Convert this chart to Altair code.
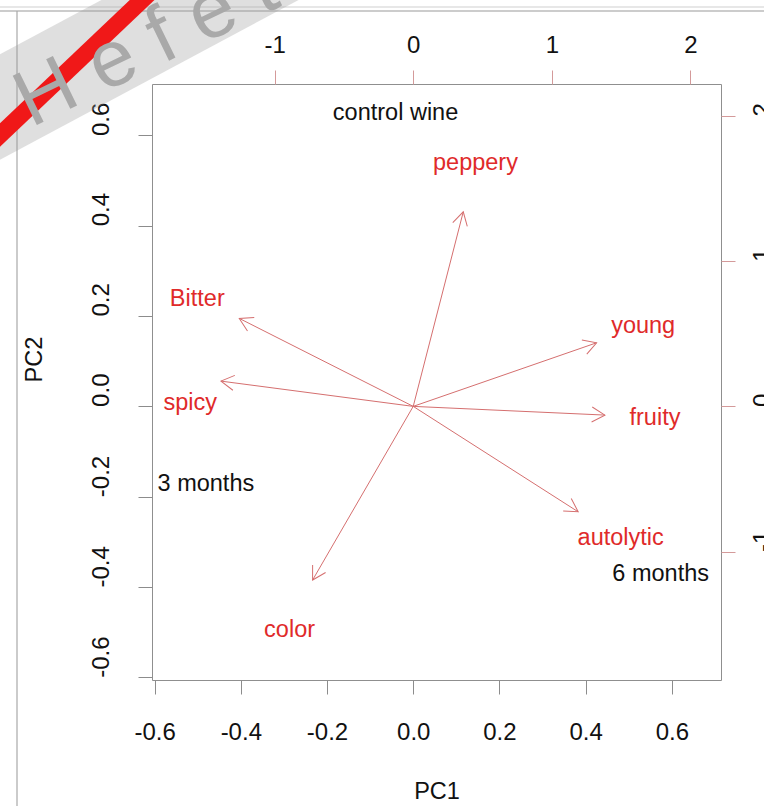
import altair as alt
import numpy as np
import pandas as pd

# ---------------- data ----------------
# observations (scores on PC1 / PC2, bottom & left axes)
obs_labels = ["control wine", "3 months", "6 months"]
obs_pc1 = [-0.041, -0.481, 0.574]
obs_pc2 = [0.650, -0.171, -0.371]

# variables (loadings, top & right axes)
var_names = ["peppery", "Bitter", "spicy", "young", "fruity", "autolytic", "color"]
arrow_x = [0.361, -1.255, -1.387, 1.323, 1.383, 1.190, -0.726]
arrow_y = [1.340, 0.606, 0.174, 0.438, -0.060, -0.726, -1.196]
label_x = [0.449, -1.558, -1.609, 1.659, 1.744, 1.497, -0.892]
label_y = [1.673, 0.737, 0.020, 0.555, -0.083, -0.909, -1.541]

pc_ticks = [-0.6, -0.4, -0.2, 0.0, 0.2, 0.4, 0.6]
load_ticks = [-1, 0, 1, 2]

# ---------------- layout / style ----------------
PC_DOMAIN = [-0.606, 0.714]
LOAD_RATIO = 3.11
LOAD_DOMAIN = [d * LOAD_RATIO for d in PC_DOMAIN]
W, H = 569, 596
FONT = "Liberation Sans"
RED = "#e02a2a"
ARROW = "#d56f6f"
AXGRAY = "#8c8c8c"
PINK = "#d49a9a"
MINUS = "replace(datum.label, '\u2212', '-')"

obs = pd.DataFrame({"label": obs_labels, "pc1": obs_pc1, "pc2": obs_pc2})

vdf = pd.DataFrame({"name": var_names, "ax": arrow_x, "ay": arrow_y,
                    "lx": label_x, "ly": label_y})
vdf["o"] = 0.0
px_x = W / (LOAD_DOMAIN[1] - LOAD_DOMAIN[0])
px_y = H / (LOAD_DOMAIN[1] - LOAD_DOMAIN[0])
vdf["ang"] = (np.degrees(np.arctan2(vdf["ax"] * px_x, vdf["ay"] * px_y)) + 360) % 360

# ---------------- primary (scores) ----------------
pc_scale = alt.Scale(domain=PC_DOMAIN, nice=False, zero=False)
axis_bottom = alt.Axis(orient="bottom", values=pc_ticks, format=".1f", labelExpr=MINUS,
                       grid=False, domain=False, tickSize=14, tickColor=AXGRAY,
                       labelPadding=38.4, labelBaseline="middle", labelFlush=False,
                       labelOverlap=False, labelFont=FONT, labelFontSize=24,
                       labelColor="#111111", title="PC1", titleFont=FONT,
                       titleFontSize=23.5, titleFontWeight="normal", titleColor="#111111",
                       titleBaseline="middle", titleY=111.4)
axis_left = alt.Axis(orient="left", values=pc_ticks, format=".1f", labelExpr=MINUS,
                     grid=False, domain=False, tickSize=14, tickColor=AXGRAY,
                     labelAngle=270, labelAlign="left", labelBaseline="middle",
                     labelPadding=37, labelFlush=False, labelOverlap=False,
                     labelFont=FONT, labelFontSize=24, labelColor="#111111",
                     title="PC2", titleFont=FONT, titleFontSize=23.5,
                     titleFontWeight="normal", titleColor="#111111", titleAngle=270,
                     titleAlign="left", titleBaseline="middle", titleX=-117.6, titleY=298)

scores = alt.Chart(obs).mark_text(font=FONT, fontSize=23.5, color="#111111",
                                  align="center", baseline="middle").encode(
    x=alt.X("pc1:Q", scale=pc_scale, axis=axis_bottom),
    y=alt.Y("pc2:Q", scale=pc_scale, axis=axis_left),
    text="label:N",
)

# ---------------- secondary (loadings) ----------------
ld_scale = alt.Scale(domain=LOAD_DOMAIN, nice=False, zero=False)
axis_top = alt.Axis(orient="top", values=load_ticks, format="d", labelExpr=MINUS,
                    grid=False, domain=False, tickSize=14, tickColor=PINK,
                    labelPadding=24.6, labelBaseline="middle", labelFlush=False,
                    labelOverlap=False, labelFont=FONT, labelFontSize=24,
                    labelColor="#111111", title=None)
axis_right = alt.Axis(orient="right", values=load_ticks, format="d", labelExpr=MINUS,
                      grid=False, domain=False, tickSize=14, tickColor=PINK,
                      labelAngle=270, labelAlign="left", labelBaseline="middle",
                      labelPadding=27, labelFlush=False, labelOverlap=False,
                      labelFont=FONT, labelFontSize=24, labelColor="#111111", title=None)


def lx(field):
    return alt.X(f"{field}:Q", scale=ld_scale, axis=axis_top)


def ly(field):
    return alt.Y(f"{field}:Q", scale=ld_scale, axis=axis_right)


base = alt.Chart(vdf)
shafts = base.mark_rule(color=ARROW, strokeWidth=1).encode(
    x=lx("o"), y=ly("o"), x2="ax:Q", y2="ay:Q")
heads = base.mark_point(shape="M-0.5,0.866L0,0L0.5,0.866", filled=False, size=900,
                        stroke=ARROW, strokeWidth=1, opacity=1).encode(
    x=lx("ax"), y=ly("ay"), angle=alt.Angle("ang:Q", scale=None))
vlabels = base.mark_text(font=FONT, fontSize=23.5, color=RED, align="center",
                         baseline="middle").encode(
    x=lx("lx"), y=ly("ly"), text="name:N")
loadings = alt.layer(shafts, heads, vlabels)

# ---------------- decoration (screenshot frame + watermark) ----------------
one = pd.DataFrame({"k": [0]})
deco_base = alt.Chart(one)
frame_top1 = deco_base.mark_rule(color="#cfcfcf", strokeWidth=1).encode(
    x=alt.value(-152), x2=alt.value(612), y=alt.value(-77))
frame_top2 = deco_base.mark_rule(color="#9a9a9a", strokeWidth=1.2).encode(
    x=alt.value(-152), x2=alt.value(612), y=alt.value(-73))
frame_left = deco_base.mark_rule(color="#a8a8a8", strokeWidth=1.2).encode(
    x=alt.value(-135), y=alt.value(-73), y2=alt.value(722))
band = deco_base.mark_rule(color="#9a9a9a", strokeWidth=93, opacity=0.32,
                           strokeCap="butt").encode(
    x=alt.value(-192), y=alt.value(44.4), x2=alt.value(148), y2=alt.value(-137.5))
stripe = deco_base.mark_rule(color="#f01818", strokeWidth=17, strokeCap="butt").encode(
    x=alt.value(-182), y=alt.value(79.5), x2=alt.value(18), y2=alt.value(-110.5))
letters = deco_base.mark_text(text="H e f e t", font=FONT, fontSize=80, color="#a9a9a9",
                              angle=334, align="left", baseline="alphabetic").encode(
    x=alt.value(-121), y=alt.value(44))
deco = alt.layer(frame_top1, frame_top2, frame_left, band, stripe, letters)

chart = alt.layer(scores, loadings, deco).resolve_scale(
    x="independent", y="independent"
).properties(
    width=W, height=H,
    autosize=alt.AutoSizeParams(type="none"),
    padding={"left": 152, "top": 84, "right": 43, "bottom": 126},
    background="white",
).configure_view(stroke="#8f8f8f", strokeWidth=1)

chart.save("out.html", embed_options={"renderer": "svg", "actions": False})
